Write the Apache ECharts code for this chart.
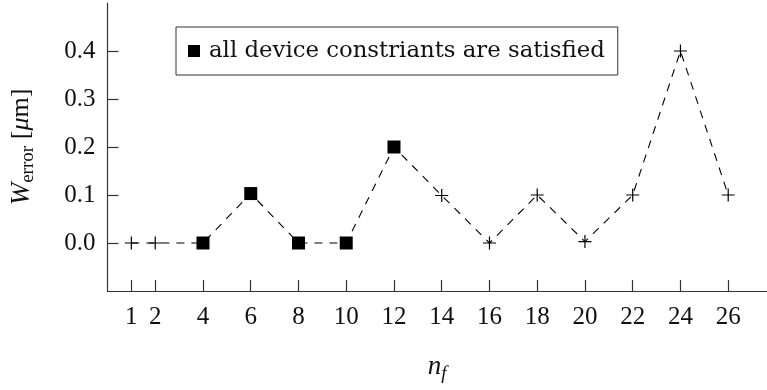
<!DOCTYPE html>
<html>
<head>
<meta charset="utf-8">
<script src="https://cdn.jsdelivr.net/npm/echarts@6/dist/echarts.min.js"></script>
<style>
  html, body { margin: 0; padding: 0; background: #fff; }
  #chart { width: 767px; height: 390px; }
</style>
</head>
<body>
<div id="chart"></div>
<script>
// Number of features n_f and the resulting width error in micrometres
const nf = [1, 2, 4, 6, 8, 10, 12, 14, 16, 18, 20, 22, 24, 26];
const wError = [0, 0, 0, 0.103, 0, 0, 0.2, 0.099, 0, 0.1, 0.003, 0.1, 0.4, 0.1];
// Whether all device constraints hold for each run
const satisfied = [false, false, true, true, true, true, true, false, false, false, false, false, false, false];
// Tick positions
const xTicks = [1, 2, 4, 6, 8, 10, 12, 14, 16, 18, 20, 22, 24, 26];
const yTicks = [0, 0.1, 0.2, 0.3, 0.4];

const legendName = 'all device constriants are satisfied';
const serif = '"Liberation Serif", "DejaVu Serif", serif';
const axisColor = '#333';
const plusPath = 'path://M0,6.5L13,6.5M6.5,0L6.5,13';

const lineData = nf.map((x, i) => ({
  value: [x, wError[i]],
  symbol: satisfied[i] ? 'none' : plusPath
}));
const squareData = nf.map((x, i) => [x, wError[i]]).filter((d, i) => satisfied[i]);

const chart = echarts.init(document.getElementById('chart'), null, { renderer: 'canvas' });
chart.setOption({
  animation: false,
  backgroundColor: '#fff',
  grid: { left: 104, right: 0, top: 3, bottom: 99, containLabel: false },
  legend: {
    data: [{ name: legendName, icon: 'path://M0,0H12V12H0Z', itemStyle: { color: '#000', opacity: 1 } }],
    left: 176, top: 27,
    padding: [12, 13, 12, 12],
    itemWidth: 20, itemHeight: 12,
    borderColor: axisColor, borderWidth: 1,
    backgroundColor: '#fff',
    textStyle: { fontFamily: '"DejaVu Serif", serif', fontSize: 22.8, color: '#111', lineHeight: 24 }
  },
  xAxis: {
    type: 'value', min: 0, max: 27.625,
    name: '{i|n}{s|f}', nameLocation: 'middle', nameGap: 60,
    nameTextStyle: {
      rich: {
        i: { fontFamily: serif, fontStyle: 'italic', fontSize: 27, color: '#111', lineHeight: 32, verticalAlign: 'middle' },
        s: { fontFamily: serif, fontStyle: 'italic', fontSize: 19, color: '#111', lineHeight: 22, verticalAlign: 'bottom' }
      }
    },
    splitLine: { show: false },
    axisLine: { show: true, onZero: false, lineStyle: { color: axisColor, width: 1.2 } },
    axisTick: { show: true, inside: true, length: 11, customValues: xTicks, lineStyle: { color: axisColor, width: 1.2 } },
    axisLabel: { customValues: xTicks, margin: 14, fontFamily: serif, fontSize: 25, color: '#111' }
  },
  yAxis: {
    type: 'value', min: -0.1, max: 0.5,
    name: '{w|W}{s|error}  {b|[}{i|μ}{b|m]}', nameLocation: 'middle', nameGap: 70, nameRotate: 90,
    nameTextStyle: {
      rich: {
        w: { fontFamily: serif, fontStyle: 'italic', fontSize: 27, color: '#111', lineHeight: 32, verticalAlign: 'middle' },
        s: { fontFamily: serif, fontSize: 19, color: '#111', lineHeight: 22, verticalAlign: 'bottom' },
        b: { fontFamily: serif, fontSize: 26, color: '#111', lineHeight: 32, verticalAlign: 'middle' },
        i: { fontFamily: serif, fontStyle: 'italic', fontSize: 26, color: '#111', lineHeight: 32, verticalAlign: 'middle' }
      }
    },
    splitLine: { show: false },
    axisLine: { show: true, onZero: false, lineStyle: { color: axisColor, width: 1.2 } },
    axisTick: { show: true, inside: true, length: 11, customValues: yTicks, lineStyle: { color: axisColor, width: 1.2 } },
    axisLabel: {
      customValues: yTicks, margin: 12, fontFamily: serif, fontSize: 25, color: '#111',
      formatter: v => v.toFixed(1)
    }
  },
  series: [
    {
      name: 'all runs',
      type: 'line',
      data: lineData,
      symbolSize: 13,
      showAllSymbol: true,
      lineStyle: { color: '#000', width: 1.1, type: [8, 7] },
      itemStyle: { color: '#000', borderColor: '#000', borderWidth: 1.2 },
      z: 2
    },
    {
      name: legendName,
      type: 'scatter',
      data: squareData,
      symbol: 'rect',
      symbolSize: 13,
      itemStyle: { color: '#000', opacity: 1 },
      z: 3
    }
  ]
});
</script>
</body>
</html>
